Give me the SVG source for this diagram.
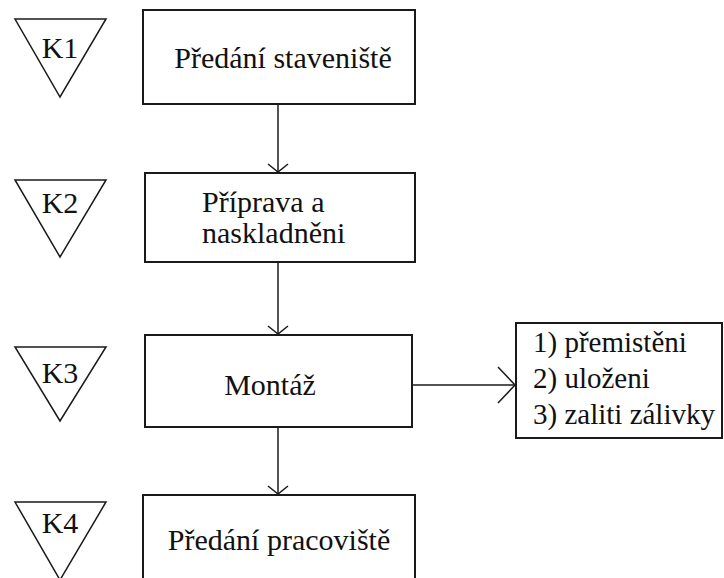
<svg xmlns="http://www.w3.org/2000/svg" width="724" height="578" viewBox="0 0 724 578">
<defs>
<marker id="ah" markerUnits="userSpaceOnUse" markerWidth="24" markerHeight="24" viewBox="-12 -12 24 24" refX="0" refY="0" orient="auto" overflow="visible">
<path d="M-8,-10 L0,0 L-8,10" fill="none" stroke="#1a1a1a" stroke-width="1.5"/>
</marker>
<marker id="ahb" markerUnits="userSpaceOnUse" markerWidth="40" markerHeight="40" viewBox="-20 -20 40 40" refX="0" refY="0" orient="auto" overflow="visible">
<path d="M-17,-18 L0,0 L-17,18" fill="none" stroke="#1a1a1a" stroke-width="1.5"/>
</marker>
</defs>
<rect width="724" height="578" fill="#fff"/>
<g id="connectors" stroke="#1a1a1a" stroke-width="1.5" fill="none">
<line x1="278" y1="104" x2="278" y2="172" marker-end="url(#ah)"/>
<line x1="278" y1="262" x2="278" y2="334" marker-end="url(#ah)"/>
<line x1="278" y1="427" x2="278" y2="494" marker-end="url(#ah)"/>
<line x1="412" y1="385" x2="515" y2="385" marker-end="url(#ahb)"/>
</g>
<g font-family="'Liberation Serif', serif" font-size="30" fill="#111">
<g id="k1">
<polygon points="15,19 106,19 60,97" fill="#fff" stroke="#1a1a1a" stroke-width="1.5"/>
<text x="60" y="58" text-anchor="middle">K1</text>
</g>
<g id="k2">
<polygon points="15,180 106,180 60,257" fill="#fff" stroke="#1a1a1a" stroke-width="1.5"/>
<text x="60" y="213" text-anchor="middle">K2</text>
</g>
<g id="k3">
<polygon points="15,347 106,347 60,421" fill="#fff" stroke="#1a1a1a" stroke-width="1.5"/>
<text x="60" y="383" text-anchor="middle">K3</text>
</g>
<g id="k4">
<polygon points="15,502 106,502 60,580" fill="#fff" stroke="#1a1a1a" stroke-width="1.5"/>
<text x="60" y="533" text-anchor="middle">K4</text>
</g>
<g id="n1">
<rect x="143" y="10" width="272" height="94" fill="#fff" stroke="#1a1a1a" stroke-width="2"/>
<text x="283" y="68" text-anchor="middle">Předání staveniště</text>
</g>
<g id="n2">
<rect x="145" y="173" width="270" height="89" fill="#fff" stroke="#1a1a1a" stroke-width="2"/>
<text x="202" y="212">Příprava a</text>
<text x="202" y="243">naskladněni</text>
</g>
<g id="n3">
<rect x="145" y="335" width="267" height="92" fill="#fff" stroke="#1a1a1a" stroke-width="2"/>
<text x="270" y="395" text-anchor="middle">Montáž</text>
</g>
<g id="n4">
<rect x="143" y="495" width="272" height="95" fill="#fff" stroke="#1a1a1a" stroke-width="2"/>
<text x="279" y="550" text-anchor="middle">Předání pracoviště</text>
</g>
<g id="n5" font-size="29">
<rect x="516" y="323" width="206" height="115" fill="#fff" stroke="#1a1a1a" stroke-width="2"/>
<text x="533" y="352">1) přemistěni</text>
<text x="533" y="388">2) uloženi</text>
<text x="533" y="424">3) zaliti zálivky</text>
</g>
</g>
</svg>
